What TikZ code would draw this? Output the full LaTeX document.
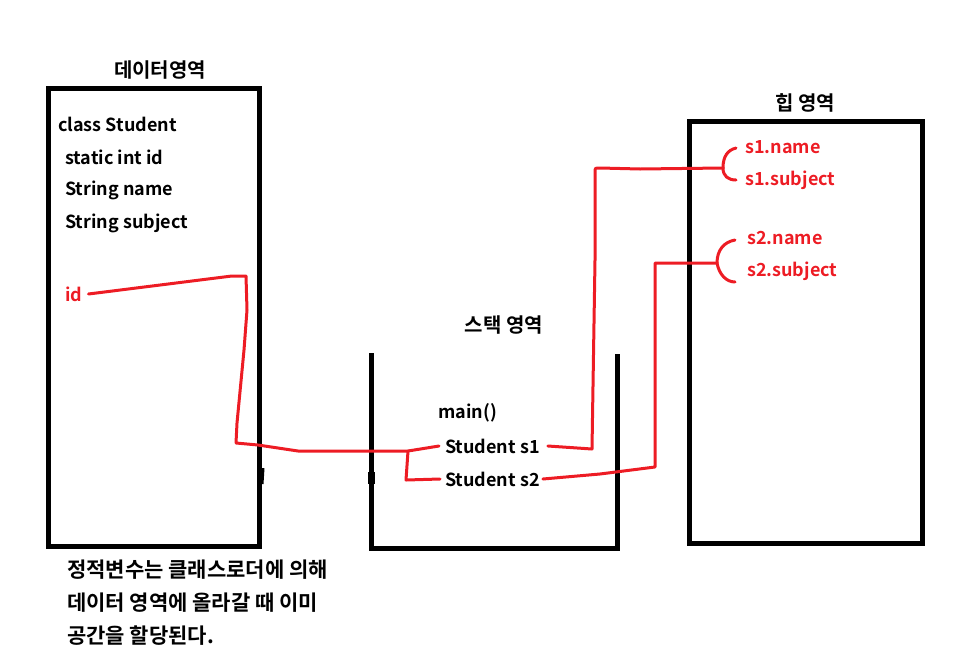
\documentclass[tikz,border=0pt]{standalone}
\usepackage{fontspec}
\setmainfont{Noto Sans CJK KR}[BoldFont={* Bold}]
\definecolor{pred}{RGB}{237,28,36}
\tikzset{
  box/.style={draw=black, line width=5pt},
  lbl/.style={font=\fontsize{18}{20}\selectfont\bfseries, inner sep=0pt, anchor=west},
  rlbl/.style={lbl, text=pred},
  ttl/.style={font=\fontsize{20}{22}\selectfont\bfseries, inner sep=0pt},
  link/.style={draw=pred, line width=3pt, line join=round, line cap=round},
}
\begin{document}
\begin{tikzpicture}[x=1pt,y=-1pt]
\useasboundingbox (0,0) rectangle (976,659);
% boxes
\draw[box] (48,88) rectangle (259,546);
\draw[box] (689,121) rectangle (922,543);
\draw[box] (371,353) -- (371,548) -- (617,548) -- (617,354);
\draw[line width=5pt] (262,468) -- (261,484);
\draw[line width=7pt] (371,472) -- (371,484);
% titles
\node[ttl] (tdata) at (160,70) {데이터영역};
\node[ttl] (theap) at (805,103) {힙 영역};
\node[ttl] (tstack) at (504,325) {스택 영역};
% data area
\node[lbl] (c1) at (58,124) {class Student};
\node[lbl] (c2) at (65,157) {static int id};
\node[lbl] (c3) at (65,190) {String name};
\node[lbl] (c4) at (65,223) {String subject};
\node[rlbl] (idn) at (65,294) {id};
% stack area
\node[lbl] (mainf) at (438,413) {main()};
\node[lbl] (s1) at (445,446) {Student s1};
\node[lbl] (s2) at (445,479) {Student s2};
% heap area
\node[rlbl] (h1) at (745,147) {s1.name};
\node[rlbl] (h2) at (745,180) {s1.subject};
\node[rlbl] (h3) at (747,238) {s2.name};
\node[rlbl] (h4) at (747,271) {s2.subject};
% note
\node[lbl, align=left, anchor=north west, font=\fontsize{21}{33}\selectfont\bfseries] (note) at (67,560)
  {정적변수는 클래스로더에 의해\\데이터 영역에 올라갈 때 이미\\공간을 할당된다.};
% connectors
\coordinate (b1) at (723,168);
\coordinate (b2) at (717,263);
\coordinate (j1) at (408,451);
\draw[link] ([xshift=6pt]idn.east) -- (200,280) -- (232,276) -- (246,276)
  -- (247,310) -- (244,350) -- (237,423) -- (236,443) -- (258,445) -- (298,451)
  -- (j1) -- ([xshift=-6pt]s1.west);
\draw[link] (j1) -- (406,480) -- ([xshift=-5pt]s2.west);
\draw[link] ([xshift=8pt]s1.east) -- (592,449) -- (595,260) -- (595,172)
  .. controls (595,168) .. (600,168) -- (640,169) -- (b1);
\draw[link] ([xshift=3pt]s2.east) -- (600,474) -- (655,467) -- (655,263) -- (b2);
% braces
\draw[link] (b1) .. controls (723,156) and (728,150) .. (736,148);
\draw[link] (b1) .. controls (723,176) and (728,180) .. (736,180);
\draw[link] (b2) .. controls (717,250) and (724,242) .. (735,240);
\draw[link] (b2) .. controls (719,274) and (726,282) .. (735,282);
\end{tikzpicture}
\end{document}
